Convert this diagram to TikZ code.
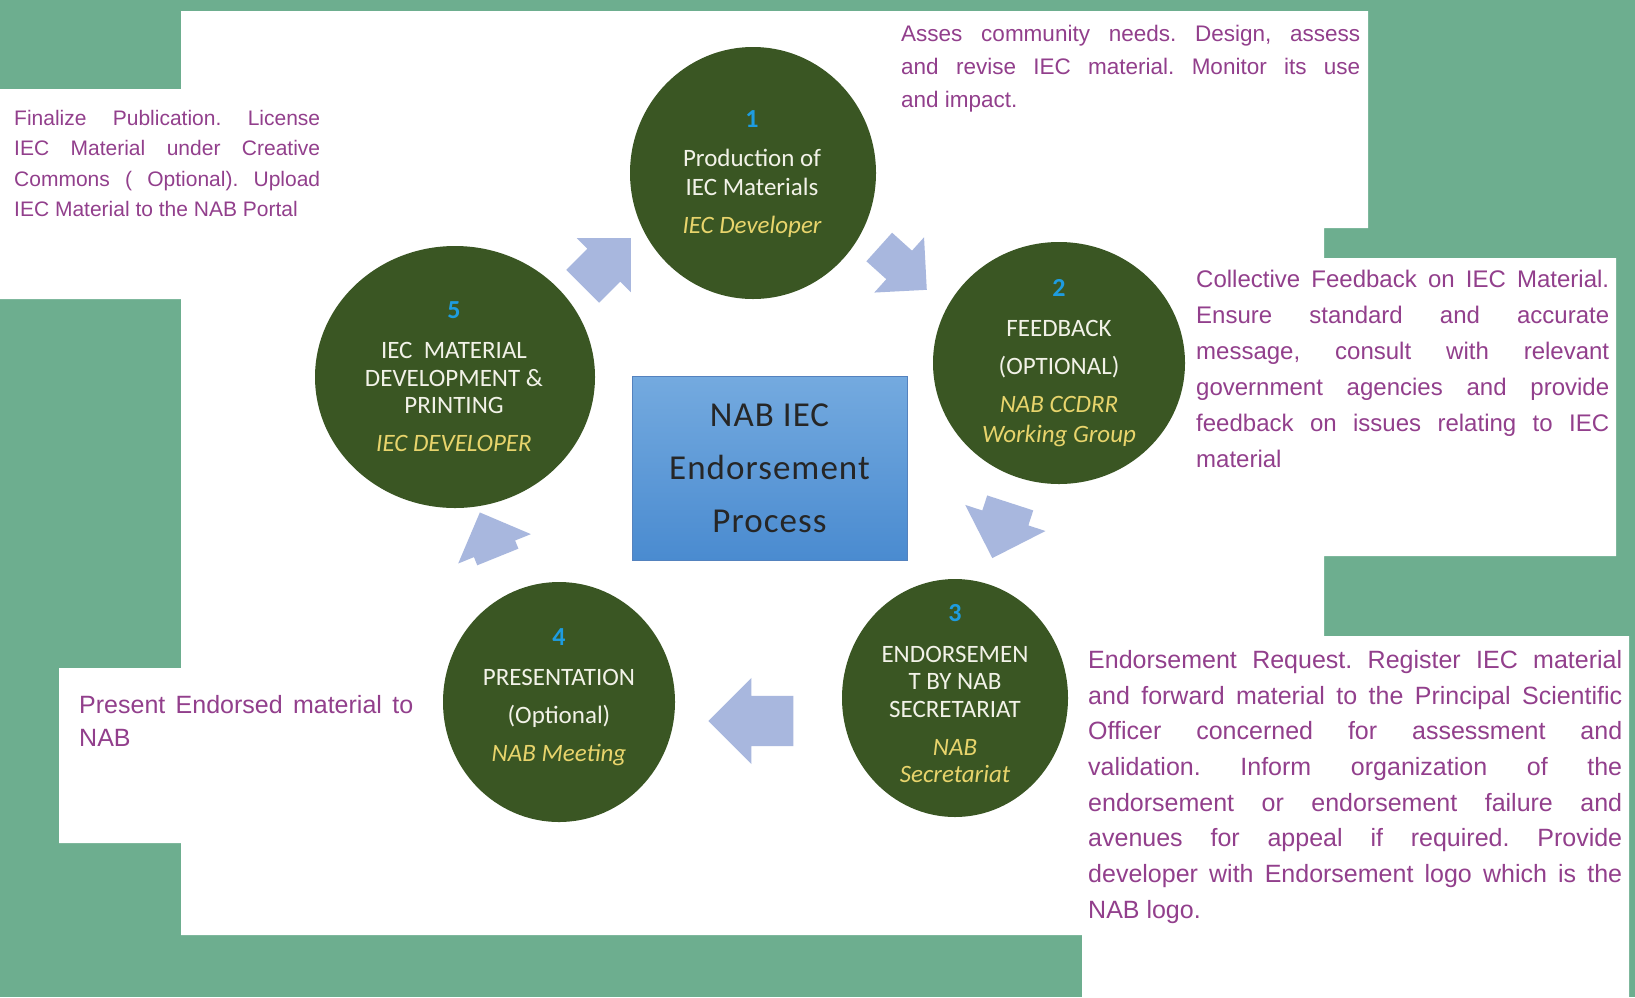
\documentclass[tikz,border=0pt]{standalone}
\usepackage{fontspec}
\setmainfont{Carlito}
\newfontfamily\notefont{Liberation Sans}
\newfontfamily\hubfont[LetterSpace=3]{Carlito}
\usetikzlibrary{shapes.geometric,shapes.arrows}

\definecolor{bggreen}{RGB}{109,174,143}
\definecolor{stagegreen}{RGB}{58,86,35}
\definecolor{stagewhite}{RGB}{242,242,232}
\definecolor{notepurple}{RGB}{146,63,140}
\definecolor{rolegold}{RGB}{232,212,108}
\definecolor{numblue}{RGB}{30,156,224}
\definecolor{flowblue}{RGB}{168,183,222}
\definecolor{hubtop}{RGB}{116,170,223}
\definecolor{hubbottom}{RGB}{74,139,208}
\definecolor{hubline}{RGB}{84,130,190}

\newcommand{\stagenum}[1]{{\bfseries\color{numblue}\fontsize{26}{26}\selectfont #1}}
\newcommand{\stagerole}[1]{{\itshape\color{rolegold}#1}}
\tolerance=10000
\hbadness=10000
\frenchspacing

\begin{document}
\begin{tikzpicture}[x=1pt, y=-1pt,
  stage/.style={ellipse, fill=stagegreen, inner sep=0pt},
  stagetext/.style={align=center, text=stagewhite, inner sep=0pt,
    font=\fontsize{25}{28}\selectfont},
  note/.style={anchor=north west, inner sep=0pt, align=justify, text=notepurple},
  flow/.style={single arrow, fill=flowblue, inner xsep=0pt},
  hub/.style={draw=hubline, top color=hubtop, bottom color=hubbottom,
    minimum width=275, minimum height=184, align=center, text=black!85,
    font=\hubfont\fontsize{35}{53}\selectfont}
  ]
  \useasboundingbox (0,0) rectangle (1635,997);
  \fill[bggreen] (0,0) rectangle (1635,997);
  \fill[white] (181,11) rectangle (1368,228)
    (181,11) rectangle (1324,935)
    (0,89) rectangle (181,299)
    (1324,258) rectangle (1616,556)
    (59,668) rectangle (181,843)
    (1082,636) rectangle (1629,997);

  \node[stage, minimum width=246, minimum height=252] (s1) at (753,173) {};
  \node[stage, minimum width=252, minimum height=242] (s2) at (1059,363) {};
  \node[stage, minimum width=226, minimum height=238] (s3) at (955,698) {};
  \node[stage, minimum width=232, minimum height=240] (s4) at (559,702) {};
  \node[stage, minimum width=280, minimum height=262] (s5) at (455,377) {};

  \node[stagetext] (t1) at (752,174) {\stagenum{1}\\[11pt]
    Production of\\[1pt] IEC Materials\\[10pt] \stagerole{IEC Developer}};
  \node[stagetext] (t2) at (1059,363) {\stagenum{2}\\[12pt]
    FEEDBACK\\[10pt] (OPTIONAL)\\[10pt]
    \stagerole{NAB CCDRR}\\[2pt] \stagerole{Working Group}};
  \node[stagetext] (t3) at (955,694) {\stagenum{3}\\[13pt]
    ENDORSEMEN\\[-1pt] T BY NAB\\ SECRETARIAT\\[10pt]
    \stagerole{NAB}\\[-1pt] \stagerole{Secretariat}};
  \node[stagetext] (t4) at (559,697) {\stagenum{4}\\[12pt]
    PRESENTATION\\[10pt] (Optional)\\[10pt] \stagerole{NAB Meeting}};
  \node[stagetext] (t5) at (454,377) {\stagenum{5}\\[12pt]
    IEC\ \ MATERIAL\\ DEVELOPMENT \&\\[-1pt] PRINTING\\[10pt]
    \stagerole{IEC DEVELOPER}};

  \node[hub] (hub) at (769.5,468) {NAB IEC\\Endorsement\\Process};

  \node[flow, minimum height=64, inner ysep=19, single arrow head extend=18,
    rotate=-42, anchor=tip] (f12) at (927,290) {};
  \node[flow, minimum height=58, inner ysep=24, single arrow head extend=18,
    rotate=-108] (f23) at (1005,519) {};
  \node[flow, minimum height=85, inner ysep=25, single arrow head extend=18,
    rotate=180, anchor=tip] (f34) at (708,721) {};
  \node[flow, minimum height=48, inner ysep=22, single arrow head extend=17,
    rotate=112] (f45) at (493,545) {};
  \node[flow, minimum height=68, inner ysep=23, single arrow head extend=15,
    rotate=45, anchor=tip] (f51) at (631,238) {};

  \node[note, text width=459, font=\notefont\fontsize{22.5}{33}\selectfont]
    (n1) at (901,25) {Asses community needs. Design, assess\linebreak
    and revise IEC material. Monitor its use\linebreak and impact.};
  \node[note, text width=413, font=\notefont\fontsize{24}{36}\selectfont]
    (n2) at (1196,270) {Collective Feedback on IEC Material.\linebreak
    Ensure standard and accurate\linebreak
    message, consult with relevant\linebreak
    government agencies and provide\linebreak
    feedback on issues relating to IEC\linebreak material};
  \node[note, text width=534, font=\notefont\fontsize{25}{35.7}\selectfont]
    (n3) at (1088,650) {Endorsement Request. Register IEC material\linebreak
    and forward material to the Principal Scientific\linebreak
    Officer concerned for assessment and\linebreak
    validation. Inform organization of the\linebreak
    endorsement or endorsement failure and\linebreak
    avenues for appeal if required. Provide\linebreak
    developer with Endorsement logo which is the\linebreak NAB logo.};
  \node[note, text width=334, font=\notefont\fontsize{25}{33}\selectfont]
    (n4) at (79,695) {Present Endorsed material to\linebreak NAB};
  \node[note, text width=306, font=\notefont\fontsize{21}{30.3}\selectfont]
    (n5) at (14,110) {Finalize Publication. License\linebreak
    IEC Material under Creative\linebreak
    Commons ( Optional). Upload\linebreak
    IEC Material to the NAB Portal};
\end{tikzpicture}
\end{document}
